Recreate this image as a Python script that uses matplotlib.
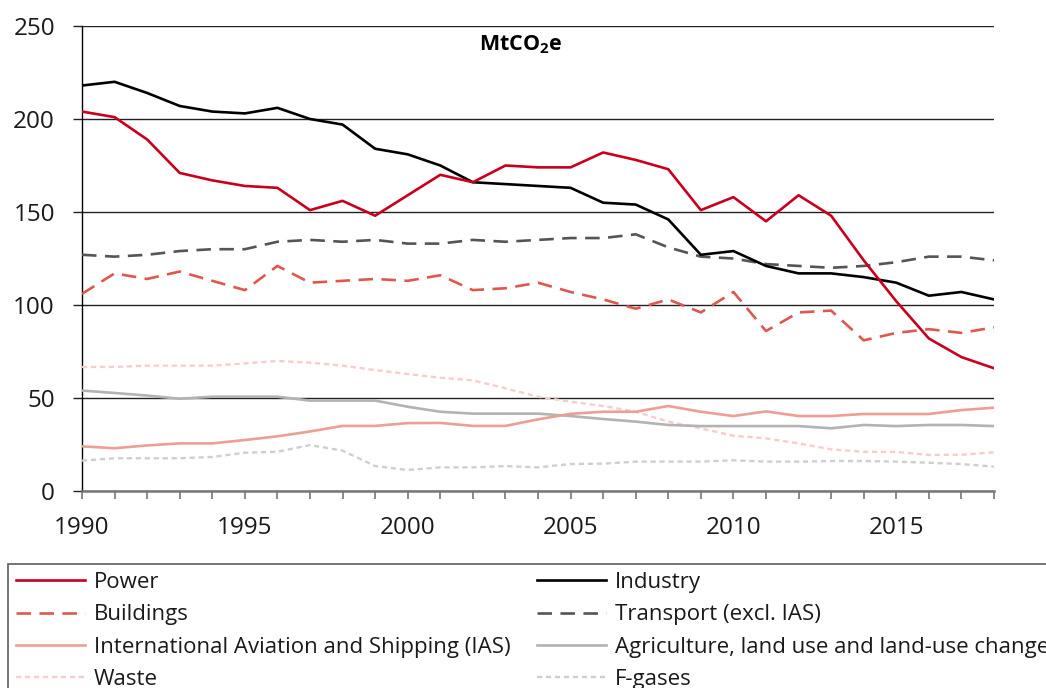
import matplotlib
matplotlib.use("Agg")
import matplotlib.pyplot as plt
from matplotlib.ticker import MultipleLocator, FuncFormatter

plt.rcParams['font.family'] = ['Open Sans', 'DejaVu Sans']
plt.rcParams['mathtext.fontset'] = 'custom'
plt.rcParams['mathtext.rm'] = 'Open Sans'
plt.rcParams['mathtext.bf'] = 'Open Sans:bold'

# ==============================
# DATA (MtCO2e)
# ==============================
years = list(range(1990, 2019))

power = [204, 201, 189, 171, 167, 164, 163, 151, 156, 148,
         159, 170, 166, 175, 174, 174, 182, 178, 173, 151,
         158, 145, 159, 148, 124, 102, 82, 72, 66]
industry = [218, 220, 214, 207, 204, 203, 206, 200, 197, 184,
            181, 175, 166, 165, 164, 163, 155, 154, 146, 127,
            129, 121, 117, 117, 115, 112, 105, 107, 103]
buildings = [106, 117, 114, 118, 113, 108, 121, 112, 113, 114,
             113, 116, 108, 109, 112, 107, 103, 98, 103, 96,
             107, 86, 96, 97, 81, 85, 87, 85, 88]
transport = [127, 126, 127, 129, 130, 130, 134, 135, 134, 135,
             133, 133, 135, 134, 135, 136, 136, 138, 131, 126,
             125, 122, 121, 120, 121, 123, 126, 126, 124]
ias = [24, 23, 24.5, 25.6, 25.6, 27.4, 29.4, 32, 35, 35,
       36.5, 36.6, 35, 35, 38.5, 41.5, 42.6, 42.6, 45.7, 42.6,
       40.3, 42.8, 40.3, 40.3, 41.4, 41.4, 41.4, 43.5, 44.8]
agriculture = [54, 52.7, 51.3, 49.6, 50.7, 50.7, 50.7, 48.6, 48.6, 48.6,
               45.3, 42.6, 41.6, 41.6, 41.6, 40.3, 38.7, 37.3, 35.5, 34.9,
               34.9, 34.9, 34.9, 33.7, 35.5, 34.9, 35.5, 35.5, 34.9]
waste = [66.7, 66.7, 67.4, 67.4, 67.4, 68.6, 69.9, 69, 67.4, 65,
         62.9, 60.9, 59.5, 55.2, 50.7, 48, 45.7, 42.6, 37.3, 33.7,
         29.7, 28.3, 25.6, 22.4, 21.1, 21, 19.4, 19.5, 20.8]
fgases = [16.3, 17.6, 17.6, 17.6, 18.3, 20.6, 21.1, 24.7, 21.7, 13.4,
          11.3, 12.7, 12.7, 13.4, 12.7, 14.5, 14.7, 15.8, 15.8, 15.8,
          16.5, 15.8, 15.8, 16.1, 16.1, 15.8, 15.2, 14.5, 13.1]

labels = ["Power", "Industry", "Buildings", "Transport (excl. IAS)",
          "International Aviation and Shipping (IAS)",
          "Agriculture, land use and land-use change", "Waste", "F-gases"]

# ==============================
# FIGURE
# ==============================
fig = plt.figure(figsize=(10.46, 6.88), dpi=100)
ax = fig.add_axes([82 / 1046, 1 - 491 / 688, 912 / 1046, 465 / 688])

LONG = (5.5, 3.2)
SHORT = (2.2, 1.6)

styles = [
    (power, dict(color="#C8001E", lw=1.9)),
    (industry, dict(color="#000000", lw=1.9)),
    (buildings, dict(color="#E0574F", lw=1.9, dashes=LONG)),
    (transport, dict(color="#555555", lw=1.9, dashes=LONG)),
    (ias, dict(color="#EC9E97", lw=1.9)),
    (agriculture, dict(color="#B3B3B3", lw=1.9)),
    (waste, dict(color="#F6CDCA", lw=1.7, dashes=SHORT)),
    (fgases, dict(color="#CFCFCF", lw=1.7, dashes=SHORT)),
]

handles = []
zorders = [10, 9, 8, 7, 6, 5, 4, 3]
for (vals, kw), lab, z in zip(styles, labels, zorders):
    h, = ax.plot(years, vals, label=lab, zorder=z, **kw)
    handles.append(h)

ax.set_xlim(1990, 2018)
ax.set_ylim(0, 250)
ax.set_yticks([0, 50, 100, 150, 200, 250])
ax.yaxis.grid(True, color="#222222", lw=1.0)
ax.set_axisbelow(True)

ax.xaxis.set_major_locator(MultipleLocator(1))
ax.xaxis.set_major_formatter(FuncFormatter(lambda v, p: f"{int(v)}" if int(v) % 5 == 0 else ""))

for s in ["top", "right"]:
    ax.spines[s].set_visible(False)
ax.spines["left"].set_color("#000000")
ax.spines["left"].set_linewidth(1.0)
ax.spines["bottom"].set_color("#777777")
ax.spines["bottom"].set_linewidth(1.8)
ax.spines["bottom"].set_zorder(11)

ax.tick_params(axis="y", length=6.5, width=1.0, color="#222222", pad=13,
               labelsize=17.5, labelcolor="#1a1a1a")
ax.tick_params(axis="x", length=6, width=1.2, color="#777777", pad=12,
               labelsize=17.5, labelcolor="#1a1a1a")

ax.text(0.481, 0.959, r"MtCO$_\mathbf{2}$e", transform=ax.transAxes,
        ha="center", va="center", fontsize=15.5, fontweight="bold")

# legend in row order (two columns); it runs past the figure edge like the original
order = [0, 2, 4, 6, 1, 3, 5, 7]
leg = fig.legend([handles[i] for i in order], [labels[i] for i in order],
                 ncol=2, loc="upper left", bbox_to_anchor=(8 / 1046, 1 - 564 / 688),
                 frameon=True, fancybox=False, fontsize=16,
                 handlelength=3.1, handletextpad=0.4, columnspacing=1.2,
                 labelspacing=0.51, borderpad=0.36, borderaxespad=0)
leg.get_frame().set_edgecolor("#333333")
leg.get_frame().set_linewidth(1.2)
for t in leg.get_texts():
    t.set_color("#1a1a1a")

fig.savefig("out.png", dpi=100)
